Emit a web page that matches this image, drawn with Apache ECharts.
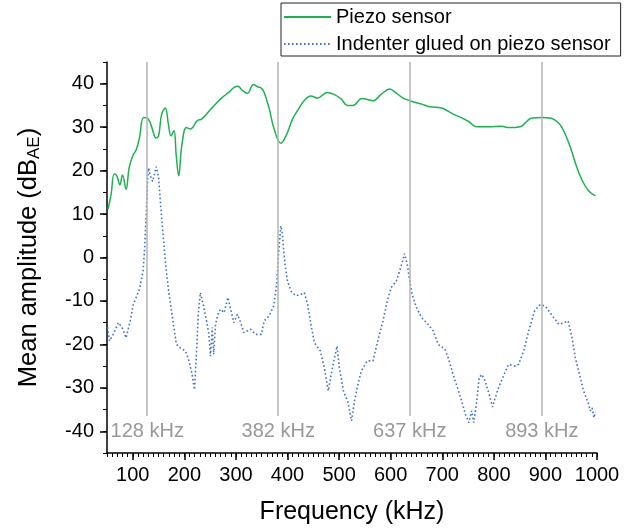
<!DOCTYPE html>
<html>
<head>
<meta charset="utf-8">
<script src="https://cdn.jsdelivr.net/npm/echarts@6/dist/echarts.min.js"></script>
<style>html,body{margin:0;padding:0;background:#fff}#c{width:629px;height:530px}</style>
</head>
<body>
<div id="c"></div>
<script>
var piezoFreq = [52,58,64,69,75,80,87,93,100,107,113,121,130,137,145,150,156,163,169,174,180,184,189,195,204,212,225,234,254,273,286,296,304,312,322,334,342,349,354,364,374,387,397,410,423,432,445,458,477,491,504,516,527,544,566,582,598,607,624,637,660,676,699,721,737,751,767,790,815,829,851,874,893,909,926,936,948,961,971,984,997];
var piezoAmp = [11.1,14.6,19.2,18.8,16.7,19.0,15.7,20.7,23.4,24.9,27.6,32.2,31.9,29.9,27.5,28.0,33.0,34.4,30.7,28.0,29.2,23.8,18.8,25.7,29.9,29.6,31.5,31.9,34.5,36.8,38.0,39.1,39.4,38.5,37.8,39.8,39.3,39.0,38.2,34.5,29.6,26.3,28.0,31.9,34.5,36.1,37.2,36.7,38.0,37.5,36.5,35.0,35.0,36.6,36.1,37.6,38.8,38.2,36.7,36.1,35.3,34.7,34.4,33.0,32.2,31.3,30.1,30.1,30.2,29.9,30.1,32.1,32.2,32.1,30.9,29.0,25.5,20.7,17.8,15.3,14.2];
var indenterFreq = [51,55,62,72,79,87,95,101,113,120,123,126,128.6,130.5,134,138.5,145.5,150,154,160,163,169.5,176,184.5,192,202,208,215,219.5,223,227,231,236.5,243,247.5,250.6,254,257,260.4,265,270,277,284.5,289.6,296,302.7,308,315.5,328.6,338,349.4,354.5,364,373,379,382.5,387,390,395,400,406.5,416,426,432.5,439,445.4,452,463.6,471.4,479,487.6,496,500.5,509,517,524,530,535,543,554.5,565.6,575,585,593.4,601,611,619.4,627,632,637,641.6,650,659.6,672.6,682.4,692,705,711.6,721,729.6,737.5,745,751.6,757,761,767,771.4,776.6,783,791,797.5,802.7,809,817,828.6,841.6,848,858,867.6,879,890,899.8,914,925.8,935.6,944,951.6,958,966,974,984,987,990.6,994,997];
var indenterAmp = [-16.1,-19.2,-17.7,-15.0,-16.1,-18.5,-14.6,-10.8,-7.3,-3.1,2.3,10.0,17.6,20.6,18.8,17.5,20.9,18.4,12.0,3.5,-0.8,-7.7,-13.1,-20.0,-20.8,-21.5,-23.4,-26.9,-30.4,-23.1,-13.1,-8.1,-10.8,-14.6,-17.7,-22.7,-16.1,-22.3,-15.4,-13.1,-11.9,-12.7,-9.2,-11.9,-15.0,-13.1,-14.6,-17.3,-16.5,-17.7,-17.7,-14.6,-13.5,-11.2,-6.2,0.8,7.3,5.4,-1.5,-5.4,-7.7,-8.8,-8.5,-8.1,-10.8,-15.4,-19.6,-21.5,-25.4,-30.7,-25.0,-20.4,-25.4,-31.0,-33.2,-37.6,-33.0,-30.0,-26.1,-23.8,-23.8,-19.2,-14.6,-10.0,-6.9,-5.4,-2.3,0.9,-1.5,-5.4,-8.5,-11.5,-13.8,-15.4,-16.9,-20.0,-21.1,-23.1,-26.9,-30.0,-33.0,-36.1,-38.0,-35.3,-38.0,-33.0,-27.7,-26.9,-28.4,-31.5,-34.4,-32.3,-30.0,-27.7,-24.6,-25.0,-24.6,-21.5,-16.9,-12.3,-10.8,-11.2,-13.5,-15.4,-15.0,-14.6,-18.5,-23.1,-26.9,-30.7,-33.8,-35.3,-34.6,-36.9,-35.5];
var resonances = [128, 382, 637, 893];
var xTickLabels = [100,200,300,400,500,600,700,800,900,1000];
var yTickLabels = [-40,-30,-20,-10,0,10,20,30,40];

var FONT = "'Liberation Sans', Arial, sans-serif";
function zip(a, b) { return a.map(function (v, i) { return [v, b[i]]; }); }

var chart = echarts.init(document.getElementById('c'), null, { renderer: 'canvas' });
chart.setOption({
  animation: false,
  backgroundColor: '#fff',
  textStyle: { fontFamily: FONT },
  legend: {
    left: 281, top: 3, orient: 'vertical',
    data: ['Piezo sensor', 'Indenter glued on piezo sensor'],
    borderColor: '#222', borderWidth: 1, borderRadius: 0,
    padding: [4, 10, 2, 2], itemWidth: 47, itemHeight: 20, itemGap: 7,
    itemStyle: { opacity: 0 },
    textStyle: { fontSize: 20, color: '#000', fontFamily: FONT },
    backgroundColor: '#fff'
  },
  grid: { left: 107, right: 32, top: 62, bottom: 77, containLabel: false },
  xAxis: [
    {
      type: 'value', min: 50, max: 1000, interval: 10,
      axisLine: { show: true, onZero: false, lineStyle: { color: '#000', width: 1.5 } },
      axisTick: { show: true, length: 4, lineStyle: { color: '#000', width: 1 } },
      axisLabel: { show: false }, splitLine: { show: false }
    },
    {
      type: 'value', min: 50, max: 1000, position: 'bottom',
      axisLine: { show: false, onZero: false },
      axisTick: { show: true, length: 7, customValues: xTickLabels, lineStyle: { color: '#000', width: 1.5 } },
      axisLabel: { show: true, customValues: xTickLabels, margin: 12, fontSize: 20, color: '#000', fontFamily: FONT,
        formatter: function (v) { return String(v); } },
      splitLine: { show: false },
      name: 'Frequency (kHz)', nameLocation: 'middle', nameGap: 47,
      nameTextStyle: { fontSize: 25, color: '#000', fontFamily: FONT }
    }
  ],
  yAxis: [
    {
      type: 'value', min: -45, max: 45, interval: 5,
      axisLine: { show: true, onZero: false, lineStyle: { color: '#000', width: 1.5 } },
      axisTick: { show: true, length: 4, lineStyle: { color: '#000', width: 1 } },
      axisLabel: { show: false }, splitLine: { show: false }
    },
    {
      type: 'value', min: -45, max: 45, position: 'left',
      axisLine: { show: false, onZero: false },
      axisTick: { show: true, length: 7, customValues: yTickLabels, lineStyle: { color: '#000', width: 1.5 } },
      axisLabel: { show: true, customValues: yTickLabels, margin: 13, fontSize: 20, color: '#000', fontFamily: FONT },
      splitLine: { show: false },
      name: '{a|Mean amplitude (dB}{b|AE}{a|)}', nameLocation: 'middle', nameGap: 62,
      nameTextStyle: {
        color: '#000', fontFamily: FONT,
        rich: {
          a: { fontSize: 25.5, color: '#000', fontFamily: FONT, lineHeight: 32, verticalAlign: 'middle' },
          b: { fontSize: 17, color: '#000', fontFamily: FONT, lineHeight: 32, verticalAlign: 'bottom', padding: [0, 0, 2, 0] }
        }
      }
    }
  ],
  series: [
    {
      name: 'guides', type: 'line', data: [], z: 1, silent: true,
      markLine: {
        silent: true, symbol: ['none', 'none'], animation: false,
        lineStyle: { color: '#b3b3b3', width: 1.5, type: 'solid' },
        label: { show: true, position: 'start', distance: 5, fontSize: 20, color: '#999', fontFamily: FONT, formatter: '{b}' },
        data: resonances.map(function (r) {
          return [{ name: r + ' kHz', coord: [r, -36.5] }, { coord: [r, 45] }];
        })
      }
    },
    {
      name: 'Piezo sensor', type: 'line', data: zip(piezoFreq, piezoAmp), z: 3,
      symbol: 'none', smooth: 0.4, lineStyle: { color: '#1fb14f', width: 1.5 }, itemStyle: { color: '#1fb14f' }
    },
    {
      name: 'Indenter glued on piezo sensor', type: 'line', data: zip(indenterFreq, indenterAmp), z: 2,
      symbol: 'none', smooth: false, lineStyle: { color: '#4472c4', width: 1.6, type: [1.6, 2.4] }, itemStyle: { color: '#4472c4' }
    }
  ]
});
</script>
</body>
</html>
